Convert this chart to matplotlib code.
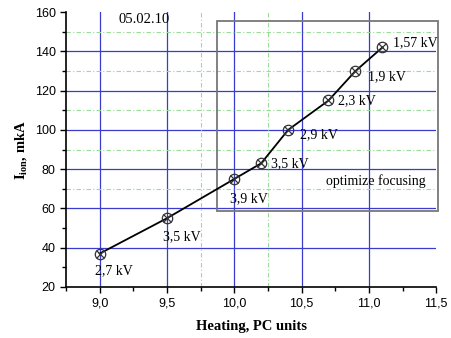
import numpy as np
import matplotlib
matplotlib.use("Agg")
from matplotlib import pyplot as plt
from matplotlib.patches import Rectangle
from matplotlib.ticker import FuncFormatter, MultipleLocator

# data
heating = [9.0, 9.5, 10.0, 10.2, 10.4, 10.7, 10.9, 11.1]
current = [37, 55, 75, 83, 100, 115, 130, 142]
voltage = ["2,7 kV", "3,5 kV", "3,9 kV", "3,5 kV", "2,9 kV", "2,3 kV", "1,9 kV", "1,57 kV"]
# label offsets in points (dx, dy)
offsets = [(-3, -12.5), (-3, -13), (-3, -14.5), (7, 0), (8.5, -3.5), (7, 0), (9, -4), (8, 3.5)]

fig = plt.figure(figsize=(4.52, 3.38), dpi=100)
ax = fig.add_axes([0.146, 0.151, 0.819, 0.813])

ax.set_xlim(8.75, 11.5)
ax.set_ylim(20, 160)

# grid, blue major + green dash-dot minor
for x in [9.0, 9.5, 10.0, 10.5, 11.0]:
    ax.axvline(x, color="#3b3bd0", lw=0.9, zorder=1)
for y in [40, 60, 80, 100, 120, 140]:
    ax.axhline(y, color="#3b3bd0", lw=0.9, zorder=1)
for x in [9.75, 10.25]:
    ax.axvline(x, color="#99dd99", lw=0.8, ls=(0, (4, 2, 1, 2)), zorder=1)
for y in [70, 90, 110, 130, 150]:
    ax.axhline(y, color="#99dd99", lw=0.8, ls=(0, (4, 2, 1, 2)), zorder=1)

# inset box
ax.add_patch(Rectangle((9.875, 58.5), 1.64, 96.9, fill=False, ec="#777777", lw=1.3,
                       clip_on=False, zorder=2))

ax.plot(heating, current, color="black", lw=1.3, zorder=3)
ax.plot(heating, current, ls="none", marker="o", ms=7.5, mfc="none", mec="#333333", mew=0.9, zorder=4)
ax.plot(heating, current, ls="none", marker="x", ms=5.5, mec="#333333", mew=0.9, zorder=4)

serif = "Liberation Serif"
for x, y, lab, (dx, dy) in zip(heating, current, voltage, offsets):
    ax.annotate(lab, (x, y), xytext=(dx, dy), textcoords="offset points",
                fontsize=10, family=serif, va="center", ha="left")

ax.text(9.14, 156.5, "05.02.10", fontsize=10.5, family=serif, va="center")
ax.text(11.42, 74, "optimize focusing", fontsize=10, family=serif, va="center", ha="right")

for s in ["top", "right"]:
    ax.spines[s].set_visible(False)
ax.spines["left"].set_linewidth(1.2)
ax.spines["bottom"].set_linewidth(1.2)

ax.set_xticks([9.0, 9.5, 10.0, 10.5, 11.0, 11.5])
ax.xaxis.set_minor_locator(MultipleLocator(0.25))
ax.set_yticks([20, 40, 60, 80, 100, 120, 140, 160])
ax.yaxis.set_minor_locator(MultipleLocator(10))
ax.xaxis.set_major_formatter(FuncFormatter(lambda v, p: ("%.1f" % v).replace(".", ",")))
ax.tick_params(which="major", length=4, width=1, labelsize=9)
ax.tick_params(which="minor", length=3, width=1)
for lab in ax.get_xticklabels() + ax.get_yticklabels():
    lab.set_family("Liberation Sans")

ax.set_xlabel("Heating, PC units", fontsize=10.5, family=serif, fontweight="bold", labelpad=8)
ax.set_ylabel(r"I$_\mathregular{ion}$, mkA", fontsize=10.5, family=serif, fontweight="bold", labelpad=3)

fig.savefig("out.png", dpi=100)
